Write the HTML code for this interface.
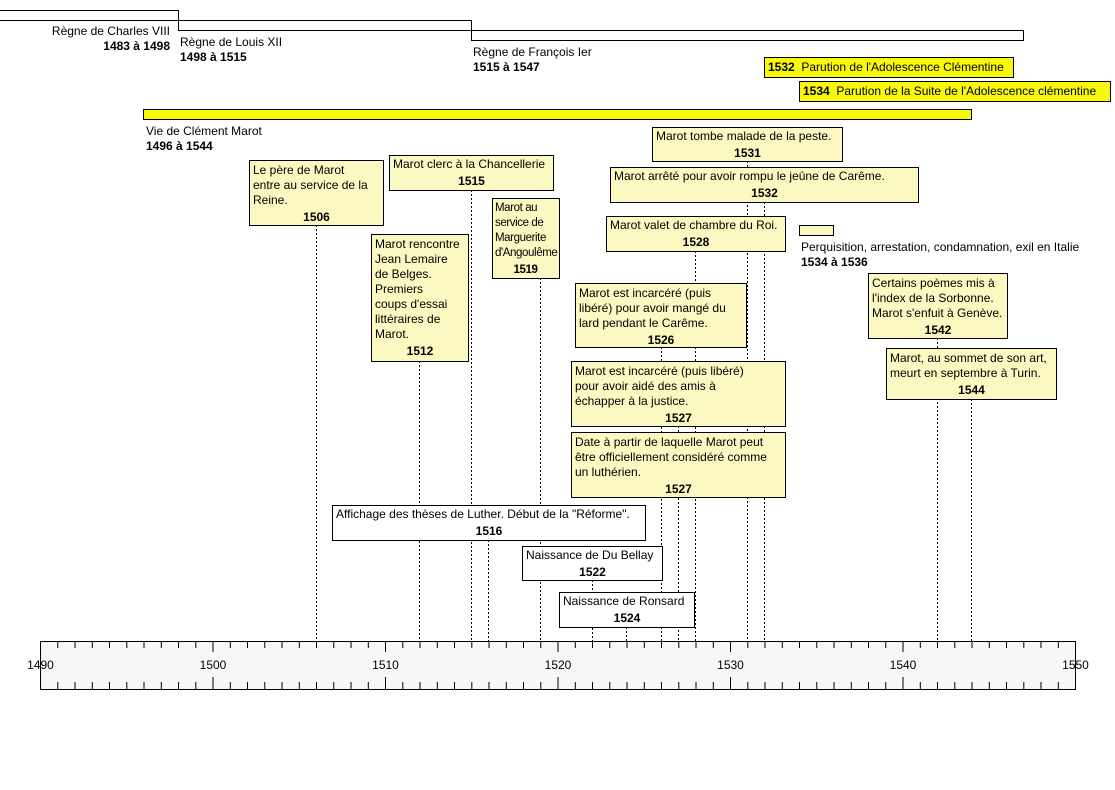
<!DOCTYPE html>
<html><head><meta charset="utf-8"><style>
body{margin:0;width:1115px;height:790px;background:#fff;position:relative;overflow:hidden;font-family:"Liberation Sans",Arial,sans-serif;font-size:12px;color:#000}
.a{position:absolute}
.b{position:absolute;box-sizing:border-box;border:1px solid #000;background:#fbf9c1;padding:2px 3px 0 3px;line-height:15px;white-space:nowrap}
.w{background:#fff}
.y{text-align:center;font-weight:bold;display:block;margin-top:2px}
.t{position:absolute;line-height:15px;white-space:nowrap}
</style></head><body>
<svg class="a" style="left:0;top:0" width="1115" height="790">
<g stroke="#000" stroke-width="1" stroke-dasharray="2,2">
<line x1="316.5" y1="225" x2="316.5" y2="641"/>
<line x1="471.5" y1="190" x2="471.5" y2="641"/>
<line x1="540.5" y1="278" x2="540.5" y2="641"/>
<line x1="419.5" y1="361" x2="419.5" y2="641"/>
<line x1="747.5" y1="161" x2="747.5" y2="641"/>
<line x1="764.5" y1="202" x2="764.5" y2="641"/>
<line x1="695.5" y1="251" x2="695.5" y2="641"/>
<line x1="661.5" y1="347" x2="661.5" y2="641"/>
<line x1="937.5" y1="338" x2="937.5" y2="641"/>
<line x1="971.5" y1="399" x2="971.5" y2="641"/>
<line x1="678.5" y1="426" x2="678.5" y2="641"/>
<line x1="488.5" y1="540" x2="488.5" y2="641"/>
<line x1="592.5" y1="580" x2="592.5" y2="641"/>
<line x1="626.5" y1="627" x2="626.5" y2="641"/>
</g>
<rect x="-5" y="10.5" width="183.5" height="10" fill="#fff" stroke="#000"/>
<rect x="178.5" y="20.5" width="293" height="10" fill="#fff" stroke="#000"/>
<rect x="471.5" y="30.5" width="552" height="10" fill="#fff" stroke="#000"/>
<rect x="143.5" y="109.5" width="828" height="10" fill="#f8f80a" stroke="#000"/>
<rect x="40.5" y="641.5" width="1035" height="48" fill="#f8f6f6" stroke="#000"/>
<g id="ticks" stroke="#000"></g>
<g font-family="Liberation Sans, Arial, sans-serif" font-size="12" text-anchor="middle">
<text x="40.5" y="669">1490</text><text x="213" y="669">1500</text><text x="385.5" y="669">1510</text><text x="558" y="669">1520</text><text x="730.5" y="669">1530</text><text x="903" y="669">1540</text><text x="1075.5" y="669">1550</text>
</g>
</svg>
<div class="t" style="right:945px;top:24px;text-align:right">Règne de Charles VIII<br><b>1483 à 1498</b></div>
<div class="t" style="left:180px;top:35px">Règne de Louis XII<br><b>1498 à 1515</b></div>
<div class="t" style="left:473px;top:45px">Règne de François Ier<br><b>1515 à 1547</b></div>
<div class="t" style="left:146px;top:124px">Vie de Clément Marot<br><b>1496 à 1544</b></div>
<div class="b" style="left:764px;top:57px;width:250px;height:21px;background:#f8f80a;padding:1px 3px;line-height:17px"><b>1532</b>&nbsp; Parution de l'Adolescence Clémentine</div>
<div class="b" style="left:799px;top:81px;width:312px;height:21px;background:#f8f80a;padding:1px 3px;line-height:17px"><b>1534</b>&nbsp; Parution de la Suite de l'Adolescence clémentine</div>
<div class="b" style="left:249px;top:160px;width:135px;height:66px">Le père de Marot<br>entre au service de la<br>Reine.<span class="y">1506</span></div>
<div class="b" style="left:389px;top:155px;width:165px;height:36px;padding-top:1px">Marot clerc à la Chancellerie<span class="y">1515</span></div>
<div class="b" style="left:492px;top:198px;width:68px;height:81px;font-size:11.5px;letter-spacing:-0.4px;padding-left:2px">Marot au<br>service de<br>Marguerite<br>d'Angoulême<span class="y">1519</span></div>
<div class="b" style="left:371px;top:234px;width:98px;height:128px">Marot rencontre<br>Jean Lemaire<br>de Belges.<br>Premiers<br>coups d'essai<br>littéraires de<br>Marot.<span class="y">1512</span></div>
<div class="b" style="left:652px;top:127px;width:191px;height:35px;padding-top:1px">Marot tombe malade de la peste.<span class="y">1531</span></div>
<div class="b" style="left:610px;top:167px;width:309px;height:36px;padding-top:1px">Marot arrêté pour avoir rompu le jeûne de Carême.<span class="y">1532</span></div>
<div class="b" style="left:606px;top:216px;width:180px;height:36px;padding-top:1px">Marot valet de chambre du Roi.<span class="y">1528</span></div>
<div class="a" style="left:799px;top:225px;width:35px;height:11px;box-sizing:border-box;border:1px solid #000;background:#fbf9c1"></div>
<div class="t" style="left:801px;top:240px">Perquisition, arrestation, condamnation, exil en Italie<br><b>1534 à 1536</b></div>
<div class="b" style="left:575px;top:283px;width:172px;height:65px">Marot est incarcéré (puis<br>libéré) pour avoir mangé du<br>lard pendant le Carême.<span class="y">1526</span></div>
<div class="b" style="left:868px;top:273px;width:140px;height:66px">Certains poèmes mis à<br>l'index de la Sorbonne.<br>Marot s'enfuit à Genève.<span class="y">1542</span></div>
<div class="b" style="left:886px;top:348px;width:171px;height:52px">Marot, au sommet de son art,<br>meurt en septembre à Turin.<span class="y">1544</span></div>
<div class="b" style="left:571px;top:361px;width:215px;height:66px">Marot est incarcéré (puis libéré)<br>pour avoir aidé des amis à<br>échapper à la justice.<span class="y">1527</span></div>
<div class="b" style="left:571px;top:432px;width:215px;height:66px">Date à partir de laquelle Marot peut<br>être officiellement considéré comme<br>un luthérien.<span class="y">1527</span></div>
<div class="b w" style="left:332px;top:505px;width:314px;height:36px;padding-top:1px">Affichage des thèses de Luther. Début de la "Réforme".<span class="y">1516</span></div>
<div class="b w" style="left:522px;top:546px;width:141px;height:35px;padding-top:1px">Naissance de Du Bellay<span class="y">1522</span></div>
<div class="b w" style="left:559px;top:592px;width:136px;height:36px;padding-top:1px">Naissance de Ronsard<span class="y">1524</span></div>
<script>
var g=document.getElementById('ticks'),s='';
for(var i=0;i<=60;i++){var x=(40.5+i*17.25).toFixed(1);var d=i%10==0;
if(i>0&&i<60){s+='<line x1="'+x+'" y1="641" x2="'+x+'" y2="'+(d?652:648)+'"/>';
s+='<line x1="'+x+'" y1="'+(d?677:682)+'" x2="'+x+'" y2="689"/>';}}
g.innerHTML=s;
</script>
</body></html>
